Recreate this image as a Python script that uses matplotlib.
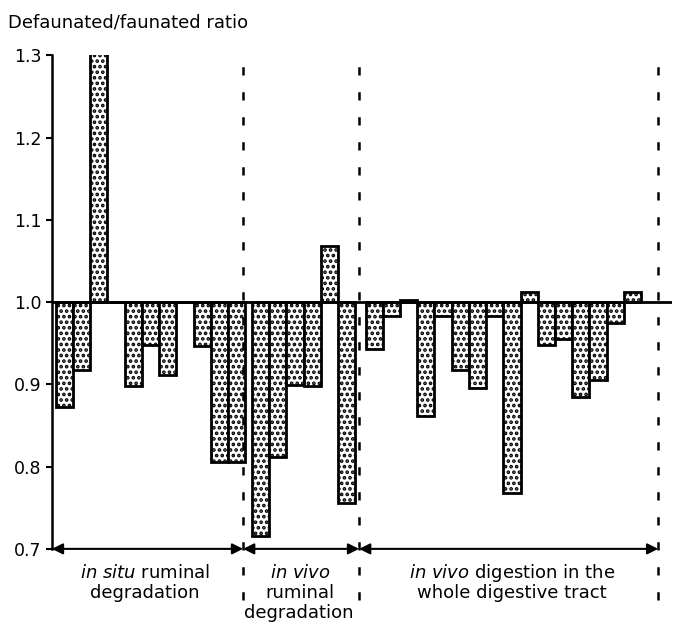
import matplotlib.pyplot as plt
import numpy as np

# отношения дефаунированные/фаунированные по трём группам опытов
in_situ = [0.873, 0.917, 1.305, 1.0, 0.898, 0.948, 0.911, 1.0, 0.947, 0.805, 0.805]
in_vivo_rumen = [0.716, 0.812, 0.899, 0.898, 1.068, 0.756]
in_vivo_tract = [0.943, 0.983, 1.003, 0.861, 0.983, 0.918, 0.895, 0.983,
                 0.768, 1.012, 0.948, 0.955, 0.885, 0.905, 0.974, 1.012]
yticks = [0.7, 0.8, 0.9, 1.0, 1.1, 1.2, 1.3]

# начала групп на оси x и разделители между группами
starts = [0, 11.4, 18]
dividers = [10.38, 17.12, 34.5]
xmin, xmax = -0.73, 35.3

fig = plt.figure(figsize=(6.74, 6.36), dpi=100)
ax = fig.add_axes([0.077, 0.137, 0.92, 0.776])

plt.rcParams['hatch.linewidth'] = 1.8
for start, vals in zip(starts, [in_situ, in_vivo_rumen, in_vivo_tract]):
    vals = np.array(vals)
    x = start + np.arange(len(vals))
    ax.bar(x, vals - 1.0, bottom=1.0, width=1.0, facecolor='white',
           edgecolor='black', linewidth=2.0, hatch='...')

# базовая линия 1.0
ax.axhline(1.0, color='black', lw=2, zorder=5)

# пунктирные разделители
for d in dividers:
    ax.plot([d, d], [0.638, 1.305], color='black', lw=1.8,
            dashes=(3.3, 6.7), clip_on=False)

# стрелки снизу
edges = [xmin] + dividers
for a, b in zip(edges[:-1], edges[1:]):
    ax.annotate('', xy=(a, 0.7), xytext=(b, 0.7), annotation_clip=False,
                arrowprops=dict(arrowstyle='<|-|>', color='black', lw=1.5,
                                mutation_scale=16, shrinkA=0, shrinkB=0))

fs = 13
ax.text(4.68, 0.671, r'$\it{in\ situ}$ ruminal', ha='center', va='center', fontsize=fs)
ax.text(4.68, 0.646, 'degradation', ha='center', va='center', fontsize=fs)
ax.text(13.7, 0.671, r'$\it{in\ vivo}$', ha='center', va='center', fontsize=fs)
ax.text(13.7, 0.646, 'ruminal', ha='center', va='center', fontsize=fs)
ax.text(13.6, 0.622, 'degradation', ha='center', va='center', fontsize=fs)
ax.text(26.0, 0.671, r'$\it{in\ vivo}$ digestion in the', ha='center', va='center', fontsize=fs)
ax.text(26.0, 0.646, 'whole digestive tract', ha='center', va='center', fontsize=fs)

fig.text(0.012, 0.965, 'Defaunated/faunated ratio', ha='left', va='center', fontsize=13)

ax.set_xlim(xmin, xmax)
ax.set_ylim(0.7, 1.3)
ax.set_yticks(yticks)
ax.set_yticklabels([f'{t:.1f}' for t in yticks], fontsize=12.5)
ax.tick_params(axis='y', direction='out', length=4, width=1.5)
ax.set_xticks([])
for s in ['top', 'right', 'bottom']:
    ax.spines[s].set_visible(False)
ax.spines['left'].set_linewidth(1.8)

plt.savefig('out.png')
